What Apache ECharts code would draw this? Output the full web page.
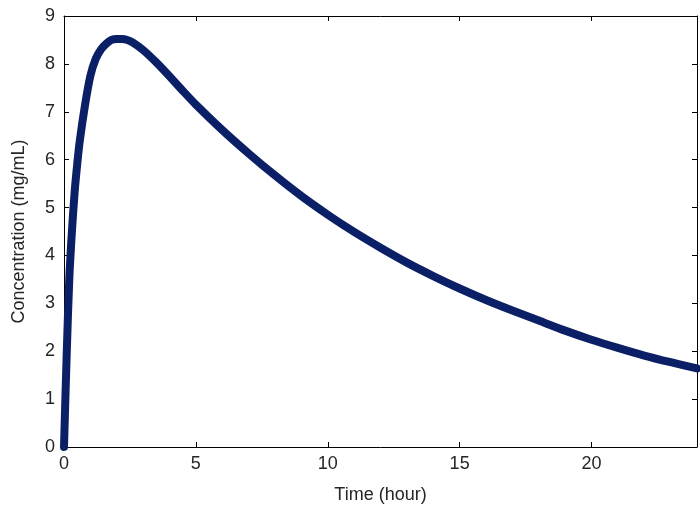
<!DOCTYPE html>
<html>
<head>
<meta charset="utf-8">
<script src="https://cdn.jsdelivr.net/npm/echarts@6/dist/echarts.min.js"></script>
<style>
  html, body { margin: 0; padding: 0; background: #fff; }
  #chart { width: 700px; height: 509px; }
</style>
</head>
<body>
<div id="chart"></div>
<script>
// time in hours, concentration in mg/mL
const times = [0, 0.1, 0.2, 0.3, 0.4, 0.5, 0.6, 0.8, 1, 1.2, 1.4, 1.6, 1.8, 2, 2.2, 2.4, 2.6,
  3, 3.5, 4, 4.5, 5, 6, 7, 8, 9, 10, 11, 12, 13, 14, 15, 16, 17, 18, 19, 20, 21, 22, 23, 24];
const conc = [0, 1.9, 3.5, 4.5, 5.3, 5.9, 6.4, 7.15, 7.75, 8.1, 8.3, 8.42, 8.5, 8.52, 8.52, 8.5, 8.45,
  8.29, 8.03, 7.74, 7.44, 7.15, 6.62, 6.13, 5.67, 5.24, 4.85, 4.49, 4.16, 3.85, 3.57, 3.31, 3.07,
  2.85, 2.64, 2.43, 2.24, 2.07, 1.91, 1.77, 1.64];
const xTicks = [0, 5, 10, 15, 20];
const yTicks = [0, 1, 2, 3, 4, 5, 6, 7, 8, 9];

const chart = echarts.init(document.getElementById("chart"));
const font = "Liberation Sans, Arial, sans-serif";
const lineStyle = { color: "#000", width: 1 };

const option = {
  animation: false,
  backgroundColor: "#fff",
  grid: { left: 64, right: -7, top: 16, bottom: 61 },
  xAxis: [
    {
      type: "value",
      min: 0, max: 24, interval: 5,
      name: "Time (hour)",
      nameLocation: "middle",
      nameGap: 39,
      nameTextStyle: { fontFamily: font, fontSize: 18, color: "#262626" },
      axisLine: { show: true, onZero: false, lineStyle },
      axisTick: { show: true, inside: true, length: 5, lineStyle },
      axisLabel: {
        fontFamily: font, fontSize: 18, color: "#262626", margin: 8,
        formatter: v => (xTicks.includes(v) ? String(v) : "")
      },
      splitLine: { show: false }
    },
    {
      type: "value",
      position: "top",
      min: 0, max: 24, interval: 5,
      axisLine: { show: true, onZero: false, lineStyle },
      axisTick: { show: true, inside: true, length: 5, lineStyle },
      axisLabel: { show: false },
      splitLine: { show: false }
    }
  ],
  yAxis: [
    {
      type: "value",
      min: 0, max: 9, interval: 1,
      name: "Concentration (mg/mL)",
      nameLocation: "middle",
      nameGap: 36,
      nameTextStyle: { fontFamily: font, fontSize: 18, color: "#262626" },
      axisLine: { show: true, onZero: false, lineStyle },
      axisTick: { show: true, inside: true, length: 5, lineStyle },
      axisLabel: {
        fontFamily: font, fontSize: 18, color: "#262626", margin: 9,
        formatter: v => (yTicks.includes(v) ? String(v) : "")
      },
      splitLine: { show: false }
    },
    {
      type: "value",
      position: "right",
      min: 0, max: 9, interval: 1,
      axisLine: { show: true, onZero: false, lineStyle },
      axisTick: { show: true, inside: true, length: 5, lineStyle },
      axisLabel: { show: false },
      splitLine: { show: false }
    }
  ],
  series: [
    {
      type: "line",
      data: times.map((t, i) => [t, conc[i]]),
      showSymbol: false,
      smooth: 0.25,
      lineStyle: { color: "#0b1f66", width: 8, cap: "round", join: "round" },
      z: 1
    }
  ]
};

chart.setOption(option);
</script>
</body>
</html>
